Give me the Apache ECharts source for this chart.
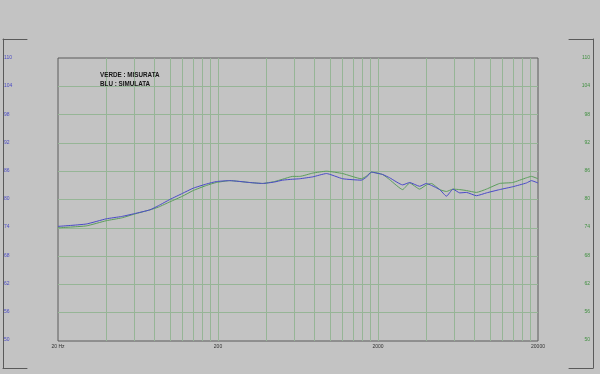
<!DOCTYPE html>
<html>
<head>
<meta charset="utf-8">
<script src="https://cdn.jsdelivr.net/npm/echarts@6/dist/echarts.min.js"></script>
<style>
html,body{margin:0;padding:0;background:#c3c3c3;}
#chart{width:600px;height:374px;}
</style>
</head>
<body>
<div id="chart"></div>
<script>
// Frequencies (Hz)
const freq = [20, 30, 40, 50, 60, 75, 85, 100, 120, 140, 170, 195, 237, 316, 380, 450, 507, 586, 648, 782, 952, 1203, 1574, 1700, 1819, 2138, 2366, 2852, 3155, 3640, 4014, 4312, 4864, 5354, 5888, 6486, 7136, 8242, 9518, 11514, 13892, 16923, 18193, 20000];
// VERDE : MISURATA (dB)
const measured = [74.0, 74.4, 75.5, 76.1, 76.9, 77.8, 78.4, 79.5, 80.7, 81.9, 83.0, 83.6, 84.0, 83.6, 83.4, 83.8, 84.3, 84.9, 84.9, 85.6, 86.0, 85.5, 84.4, 85.0, 85.8, 85.3, 84.2, 82.1, 83.5, 82.2, 83.1, 83.4, 82.1, 81.7, 82.2, 82.1, 81.9, 81.5, 82.2, 83.4, 83.6, 84.6, 84.9, 84.4];
// BLU : SIMULATA (dB)
const simulated = [74.3, 74.8, 75.9, 76.4, 77.0, 77.8, 78.7, 80.0, 81.3, 82.4, 83.3, 83.8, 84.0, 83.6, 83.4, 83.7, 84.1, 84.3, 84.4, 84.8, 85.5, 84.4, 84.1, 84.8, 85.8, 85.3, 84.6, 83.1, 83.6, 82.8, 83.4, 83.0, 82.1, 80.7, 82.2, 81.4, 81.5, 80.8, 81.4, 82.1, 82.7, 83.5, 84.0, 83.5];
// Tick labels
const yTicks = [50, 56, 62, 68, 74, 80, 86, 92, 98, 104, 110];
const xTickLabels = ['20 Hz', '200', '2000', '20000'];
const fStart = 20;

const toX = f => Math.log10(f / fStart);
const decades = xTickLabels.length - 1;
const xLabelPos = xTickLabels.map((_, i) => i);
const xGridPos = [];
for (let d = 0; d < decades; d++) {
  for (let k = 2; k <= 10; k++) {
    const v = d + Math.log10(k);
    if (v < decades - 1e-9) xGridPos.push(v);
  }
}
const yGridPos = yTicks.slice(1, -1);

const FONT = 'Arial, "Liberation Sans", sans-serif';
const gridColor = '#96b596';
const frameColor = '#5a5a5a';

const chart = echarts.init(document.getElementById('chart'), null, {renderer: 'canvas'});
chart.setOption({
  backgroundColor: '#c3c3c3',
  animation: false,
  title: {
    text: 'VERDE : MISURATA\nBLU : SIMULATA',
    left: 100, top: 71, padding: 0,
    textStyle: {fontFamily: FONT, fontSize: 6.3, fontWeight: 'bold', color: '#151515', lineHeight: 8.7}
  },
  grid: [
    {left: 58, top: 58, right: 62, bottom: 33, show: true, borderColor: frameColor, borderWidth: 1, backgroundColor: 'transparent'},
    {left: 3, top: 39, width: 24, height: 329},
    {left: 569, top: 39, width: 24, height: 329}
  ],
  xAxis: [
    {
      gridIndex: 0, type: 'value', min: 0, max: decades,
      axisLine: {show: false},
      axisTick: {show: false, customValues: xGridPos},
      splitLine: {show: true, lineStyle: {color: gridColor, width: 1}},
      axisLabel: {
        customValues: xLabelPos, margin: 3, fontSize: 5, color: '#303030', fontFamily: FONT,
        formatter: v => xTickLabels[Math.round(v)]
      }
    },
    {gridIndex: 1, type: 'value', min: 0, max: 1, position: 'top', axisLine: {show: true, onZero: false, lineStyle: {color: frameColor}}, axisTick: {show: false}, axisLabel: {show: false}, splitLine: {show: false}},
    {gridIndex: 1, type: 'value', min: 0, max: 1, position: 'bottom', axisLine: {show: true, onZero: false, lineStyle: {color: frameColor}}, axisTick: {show: false}, axisLabel: {show: false}, splitLine: {show: false}},
    {gridIndex: 2, type: 'value', min: 0, max: 1, position: 'top', axisLine: {show: true, onZero: false, lineStyle: {color: frameColor}}, axisTick: {show: false}, axisLabel: {show: false}, splitLine: {show: false}},
    {gridIndex: 2, type: 'value', min: 0, max: 1, position: 'bottom', axisLine: {show: true, onZero: false, lineStyle: {color: frameColor}}, axisTick: {show: false}, axisLabel: {show: false}, splitLine: {show: false}}
  ],
  yAxis: [
    {
      gridIndex: 0, type: 'value', min: yTicks[0], max: yTicks[yTicks.length - 1],
      axisLine: {show: false},
      axisTick: {show: false, customValues: yGridPos},
      axisLabel: {show: false},
      splitLine: {show: true, lineStyle: {color: gridColor, width: 1}}
    },
    {
      gridIndex: 1, type: 'value', min: 44, max: 114, position: 'left',
      axisLine: {show: true, onZero: false, lineStyle: {color: frameColor}},
      axisTick: {show: false},
      splitLine: {show: false},
      axisLabel: {customValues: yTicks, inside: true, margin: 1, fontSize: 5, color: '#4b4bc4', fontFamily: FONT}
    },
    {
      gridIndex: 2, type: 'value', min: 44, max: 114, position: 'right',
      axisLine: {show: true, onZero: false, lineStyle: {color: frameColor}},
      axisTick: {show: false},
      splitLine: {show: false},
      axisLabel: {customValues: yTicks, inside: true, margin: 3, fontSize: 5, color: '#3f8f3f', fontFamily: FONT}
    }
  ],
  series: [
    {
      name: 'MISURATA', type: 'line', xAxisIndex: 0, yAxisIndex: 0,
      showSymbol: false, symbol: 'none', silent: true, smooth: 0.15,
      lineStyle: {color: '#5c9e5c', width: 1},
      data: freq.map((f, i) => [toX(f), measured[i]])
    },
    {
      name: 'SIMULATA', type: 'line', xAxisIndex: 0, yAxisIndex: 0,
      showSymbol: false, symbol: 'none', silent: true, smooth: 0.15,
      lineStyle: {color: '#4a4ac8', width: 1},
      data: freq.map((f, i) => [toX(f), simulated[i]])
    }
  ]
});
</script>
</body>
</html>
